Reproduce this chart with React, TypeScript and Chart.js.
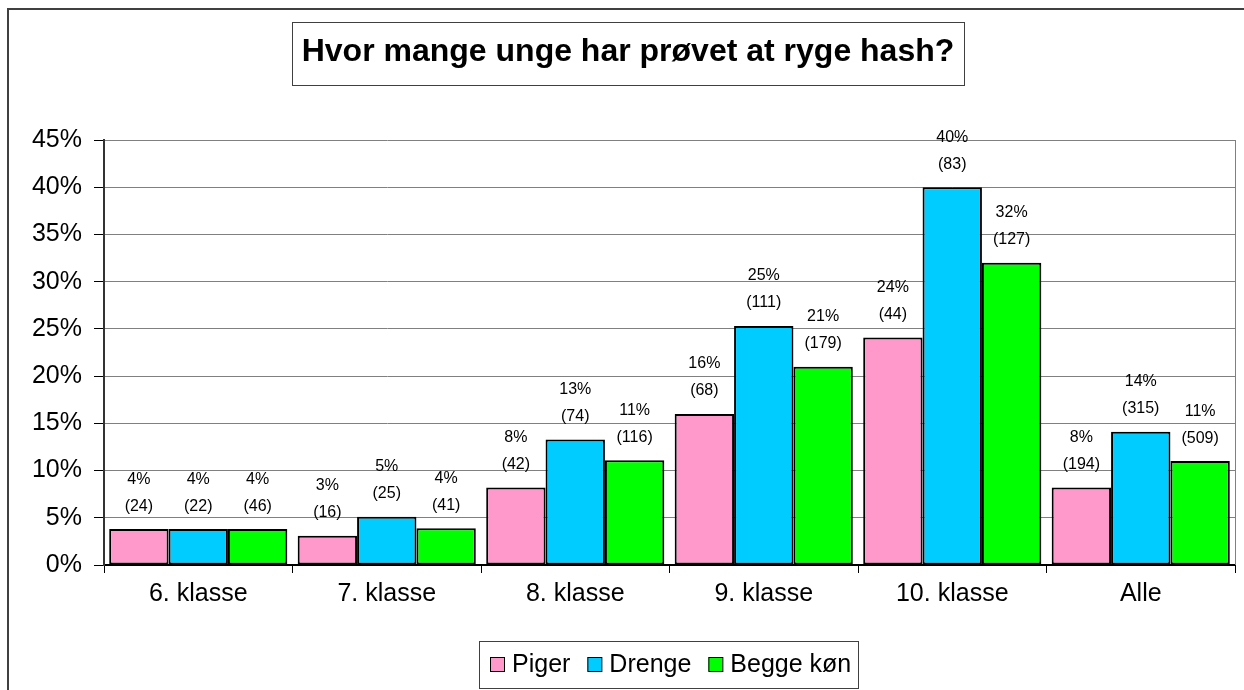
import React, { useEffect, useRef } from "react";
import { Chart, registerables } from "chart.js";

Chart.register(...registerables);

const title = "Hvor mange unge har prøvet at ryge hash?";
const categories = ["6. klasse", "7. klasse", "8. klasse", "9. klasse", "10. klasse", "Alle"];
const seriesNames = ["Piger", "Drenge", "Begge køn"];
const pigerValues = [3.8, 3.1, 8.2, 16.0, 24.1, 8.2];
const drengeValues = [3.8, 5.1, 13.3, 25.3, 40.0, 14.1];
const beggeValues = [3.8, 3.9, 11.1, 21.0, 32.0, 11.0];
const pigerCounts = [24, 16, 42, 68, 44, 194];
const drengeCounts = [22, 25, 74, 111, 83, 315];
const beggeCounts = [46, 41, 116, 179, 127, 509];
const seriesColors = ["#FF99CC", "#00CCFF", "#00FF00"];
const yMax = 45;
const yStep = 5;

const FONT = '"Liberation Sans", Arial, sans-serif';

const decorPlugin = {
  id: "decor",
  beforeDraw(chart: any) {
    const ctx = chart.ctx;
    ctx.save();
    ctx.fillStyle = "#fff";
    ctx.fillRect(0, 0, chart.width, chart.height);
    // outer chart frame (extends beyond view)
    ctx.fillStyle = "#404040";
    ctx.fillRect(7, 8, 2, chart.height);
    ctx.fillRect(7, 8, chart.width, 2);
    ctx.restore();
  },
  afterDraw(chart: any) {
    const ctx = chart.ctx;
    const ca = chart.chartArea;
    ctx.save();
    // plot area right border
    ctx.strokeStyle = "#808080";
    ctx.lineWidth = 1;
    ctx.beginPath();
    ctx.moveTo(ca.right + 0.5, ca.top);
    ctx.lineTo(ca.right + 0.5, ca.bottom);
    ctx.stroke();

    // title box
    ctx.strokeStyle = "#404040";
    ctx.lineWidth = 1;
    ctx.strokeRect(292.5, 22.5, 672, 63);
    ctx.fillStyle = "#000";
    ctx.font = `bold 32px ${FONT}`;
    ctx.textAlign = "center";
    ctx.textBaseline = "middle";
    ctx.fillText(title, 628, 52);

    // legend
    ctx.strokeRect(479.5, 641.5, 379, 47);
    ctx.font = `25px ${FONT}`;
    ctx.textAlign = "left";
    let x = 490;
    seriesNames.forEach((name, i) => {
      ctx.fillStyle = seriesColors[i];
      ctx.fillRect(x, 657, 14, 14);
      ctx.strokeStyle = "#000";
      ctx.strokeRect(x + 0.5, 657.5, 14, 14);
      ctx.fillStyle = "#000";
      ctx.fillText(name, x + 22, 665);
      x += 22 + ctx.measureText(name).width + 17;
    });
    ctx.restore();
  },
  afterDatasetsDraw(chart: any) {
    const ctx = chart.ctx;
    const counts = [pigerCounts, drengeCounts, beggeCounts];
    ctx.save();
    ctx.fillStyle = "#000";
    ctx.font = `16px ${FONT}`;
    ctx.textAlign = "center";
    ctx.textBaseline = "middle";
    chart.data.datasets.forEach((ds: any, di: number) => {
      const meta = chart.getDatasetMeta(di);
      meta.data.forEach((el: any, i: number) => {
        const v = ds.data[i];
        ctx.fillText(Math.round(v) + "%", el.x, el.y - 50);
        ctx.fillText("(" + counts[di][i] + ")", el.x, el.y - 23);
      });
    });
    ctx.restore();
  },
};

export default function App() {
  const ref = useRef<HTMLCanvasElement | null>(null);
  useEffect(() => {
    if (!ref.current) return;
    const values = [pigerValues, drengeValues, beggeValues];
    const chart = new Chart(ref.current, {
      type: "bar",
      data: {
        labels: categories,
        datasets: seriesNames.map((name, i) => ({
          label: name,
          data: values[i],
          backgroundColor: seriesColors[i],
          borderColor: "#000",
          borderWidth: 2,
          borderSkipped: false,
          categoryPercentage: 0.945,
          barPercentage: 1,
        })),
      },
      options: {
        responsive: false,
        animation: false,
        layout: { padding: { left: 0, right: 9, top: 140, bottom: 0 } },
        plugins: {
          legend: { display: false },
          title: { display: false },
          tooltip: { enabled: false },
        },
        scales: {
          x: {
            grid: {
              offset: true,
              drawOnChartArea: false,
              drawTicks: true,
              tickLength: 8,
              color: "#000",
              tickColor: "#000",
            },
            border: { display: true, color: "#000", width: 2 },
            ticks: { color: "#000", font: { family: FONT, size: 25 }, padding: 6 },
            afterFit: (s: any) => {
              s.height = 125;
            },
          },
          y: {
            min: 0,
            max: yMax,
            ticks: {
              stepSize: yStep,
              color: "#000",
              font: { family: FONT, size: 25 },
              padding: 12,
              callback: (v: any) => v + "%",
            },
            grid: { color: "#808080", tickColor: "#000", tickLength: 10, lineWidth: 1 },
            border: { color: "#333", width: 2 },
            afterFit: (s: any) => {
              s.width = 104;
            },
          },
        },
      },
      plugins: [decorPlugin],
    });
    return () => chart.destroy();
  }, []);
  return (
    <div style={{ position: "fixed", left: 0, top: 0, width: 1244, height: 690, background: "#fff" }}>
      <canvas ref={ref} width={1244} height={690} style={{ display: "block" }} />
    </div>
  );
}
